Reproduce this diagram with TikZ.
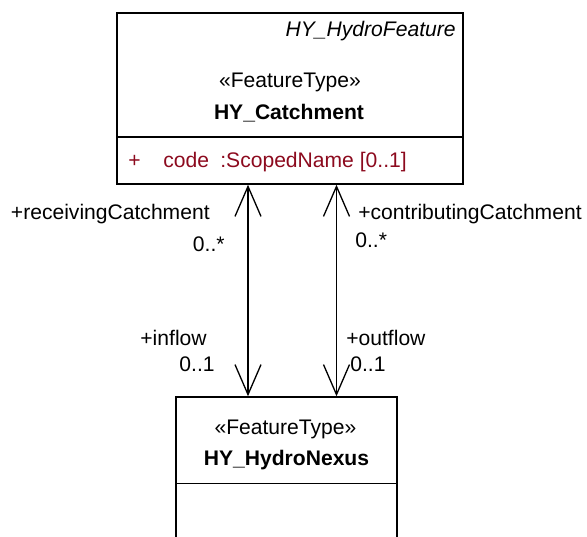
\documentclass[tikz,border=0pt]{standalone}
\usepackage{fontspec}
\setmainfont{Liberation Sans}
\usetikzlibrary{arrows.meta, positioning}
\definecolor{attrred}{RGB}{140,10,30}

\begin{document}
\begin{tikzpicture}[font=\fontsize{12}{14}\selectfont,
	every node/.style={inner sep=0pt},
	classbox/.style={draw, line width=0.85pt},
	barb/.tip={Straight Barb[length=6mm,width=5.2mm]},
	assoc/.style={line width=0.75pt, barb-barb}]
	\clip (0,0) rectangle (11.74,10.74);
	% HY_Catchment
	\node[classbox, minimum width=6.92cm, minimum height=3.42cm] (catchment) at (5.8,8.77) {};
	\draw[line width=0.85pt] (2.34,8.0) -- (9.26,8.0);
	\node[anchor=base east] (parentName) at (9.12,10.0) {\itshape HY\_HydroFeature};
	\node[anchor=base] (catchStereo) at (5.8,8.98) {«FeatureType»};
	\node[anchor=base] (catchName) at (5.78,8.34) {\bfseries HY\_Catchment};
	\node[anchor=base west, text=attrred] (attrVis) at (2.56,7.38) {+};
	\node[anchor=base west, text=attrred] (attrName) at (3.26,7.38) {code};
	\node[anchor=base west, text=attrred] (attrType) at (4.4,7.38) {:ScopedName [0..1]};

	% HY_HydroNexus (runs off the bottom)
	\node[classbox, minimum width=4.42cm, minimum height=3.8cm] (nexus) at (5.73,0.9) {};
	\draw[line width=0.85pt] (3.52,1.07) -- (7.94,1.07);
	\node[anchor=base] (nexusStereo) at (5.71,2.04) {«FeatureType»};
	\node[anchor=base] (nexusName) at (5.73,1.42) {\bfseries HY\_HydroNexus};

	% associations
	\coordinate (inX) at (4.96,0);
	\coordinate (outX) at (6.73,0);
	\draw[assoc] (catchment.south -| inX) -- (nexus.north -| inX);
	\draw[assoc] (catchment.south -| outX) -- (nexus.north -| outX);

	\node[anchor=base east] (recvRole) at (4.2,6.34) {+receivingCatchment};
	\node[anchor=base east] (recvMult) at (4.5,5.7) {0..*};
	\node[anchor=base west] (contRole) at (7.16,6.34) {+contributingCatchment};
	\node[anchor=base west] (contMult) at (7.1,5.78) {0..*};
	\node[anchor=base east] (inRole) at (4.14,3.82) {+inflow};
	\node[anchor=base east] (inMult) at (4.3,3.3) {0..1};
	\node[anchor=base west] (outRole) at (6.92,3.82) {+outflow};
	\node[anchor=base west] (outMult) at (7.0,3.3) {0..1};
\end{tikzpicture}
\end{document}
